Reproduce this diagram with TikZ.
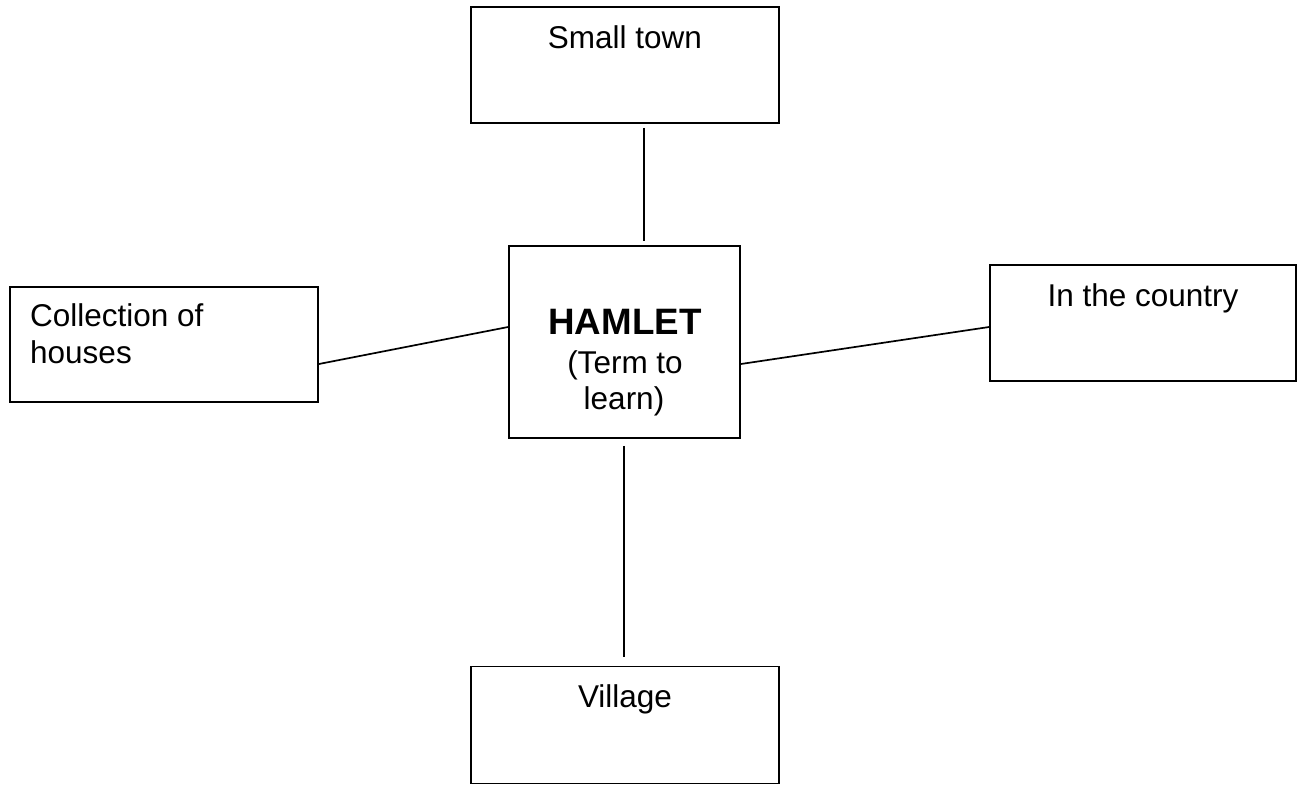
\documentclass[tikz,border=0pt]{standalone}
\usepackage{fontspec}
\setmainfont{Liberation Sans}
\tikzset{
  box/.style={draw, rectangle, line width=1.8pt, inner sep=0pt},
  txt/.style={inner sep=0pt, font=\fontsize{31.5}{36}\selectfont},
  btxt/.style={inner sep=0pt, font=\fontsize{36.75}{42}\selectfont\bfseries},
  link/.style={line width=1.7pt}
}
\begin{document}
\begin{tikzpicture}[x=1pt,y=-1pt]
\useasboundingbox (0,0) rectangle (1299,787);
% boxes
\node[box, minimum width=308pt, minimum height=116pt] (town) at (625,65) {};
\node[box, minimum width=231pt, minimum height=192pt] (ham) at (624.5,342) {};
\node[box, minimum width=308pt, minimum height=115pt] (coll) at (164,344.5) {};
\node[box, minimum width=306pt, minimum height=116pt] (ctry) at (1143,323) {};
\node[box, minimum width=308pt, minimum height=117pt] (vil) at (625,725) {};
% texts
\node[txt, anchor=base] (townt) at (625,48) {Small town};
\node[btxt, anchor=base] (hamt1) at (625,334) {HAMLET};
\node[txt, anchor=base] (hamt2) at (625,373) {(Term to};
\node[txt, anchor=base] (hamt3) at (624,409) {learn)};
\node[txt, anchor=base west] (collt1) at (30,326) {Collection of};
\node[txt, anchor=base west] (collt2) at (30,363) {houses};
\node[txt, anchor=base] (ctryt) at (1143,306) {In the country};
\node[txt, anchor=base] (vilt) at (625,707) {Village};
% connectors
\draw[link] ([xshift=19pt,yshift=-4pt]town.south) -- ([xshift=19.5pt,yshift=4pt]ham.north);
\draw[link] ([yshift=-19.5pt]coll.east) -- ([yshift=15pt]ham.west);
\draw[link] ([yshift=-22pt]ham.east) -- ([yshift=-4pt]ctry.west);
\draw[link] ([xshift=-0.5pt,yshift=-7pt]ham.south) -- ([xshift=-1pt,yshift=9pt]vil.north);
\end{tikzpicture}
\end{document}
